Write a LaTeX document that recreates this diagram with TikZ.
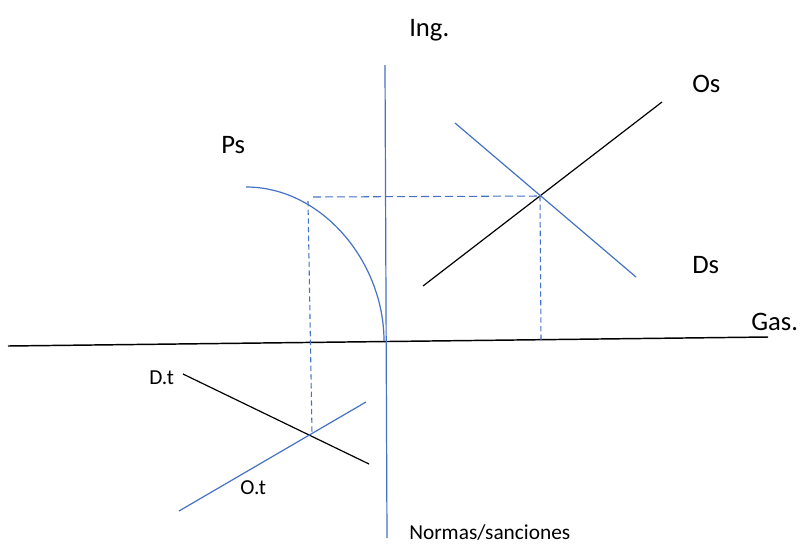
\documentclass[tikz,border=0pt]{standalone}
\usepackage{fontspec}
\setmainfont{Carlito}
\definecolor{offblue}{HTML}{4472C4}
\begin{document}
\begin{tikzpicture}[x=0.75pt,y=-0.75pt,
  bigtxt/.style={inner sep=0pt,anchor=base west,font=\fontsize{20}{24}\selectfont},
  smalltxt/.style={inner sep=0pt,anchor=base west,font=\fontsize{16}{19}\selectfont},
  bline/.style={offblue,line width=0.9pt},
  kline/.style={black,line width=0.9pt},
  hdash/.style={offblue,line width=0.8pt,dash pattern=on 6pt off 3pt},
  vdash/.style={offblue,line width=0.8pt,dash pattern=on 4pt off 2.5pt}]
\useasboundingbox (0,0) rectangle (804,544);
% coordinates
\coordinate (axL) at (8,346);
\coordinate (axR) at (768,337);
\coordinate (vT) at (385,65);
\coordinate (vB) at (387,538);
\coordinate (psS) at (246,187);
\coordinate (org) at (384,341);
\coordinate (osA) at (423,286);
\coordinate (osB) at (662,102);
\coordinate (dsA) at (455,123);
\coordinate (dsB) at (636,277);
\coordinate (eq) at (540,196);
\coordinate (eqB) at (541,340);
\coordinate (hdL) at (313,197);
\coordinate (vdT) at (308,201);
\coordinate (tx) at (312,433);
\coordinate (dtA) at (183,374);
\coordinate (dtB) at (369,464);
\coordinate (otA) at (179,511);
\coordinate (otB) at (366,402);
% axes
\draw[black,line width=1.1pt] (axL) -- (axR);
\draw[bline] (vT) -- (vB);
% Ps curve
\draw[bline] (psS) .. controls (322,187) and (384,262) .. (org);
% Os, Ds
\draw[kline] (osA) -- (osB);
\draw[bline] (dsA) -- (dsB);
% dashed guides
\draw[hdash] (hdL) -- (eq);
\draw[vdash] (eq) -- (eqB);
\draw[vdash] (vdT) -- (tx);
% D.t, O.t
\draw[kline] (dtA) -- (dtB);
\draw[bline] (otA) -- (otB);
% labels
\node[bigtxt] (ing) at (409,36) {Ing.};
\node[bigtxt] (os) at (692,92) {Os};
\node[bigtxt] (ps) at (221,153) {Ps};
\node[bigtxt] (ds) at (692,273) {Ds};
\node[bigtxt] (gas) at (751,330) {Gas.};
\node[smalltxt] (dt) at (149,384) {D.t};
\node[smalltxt] (ot) at (240,494) {O.t};
\node[smalltxt] (norm) at (409,539) {Normas/sanciones};
\end{tikzpicture}
\end{document}
